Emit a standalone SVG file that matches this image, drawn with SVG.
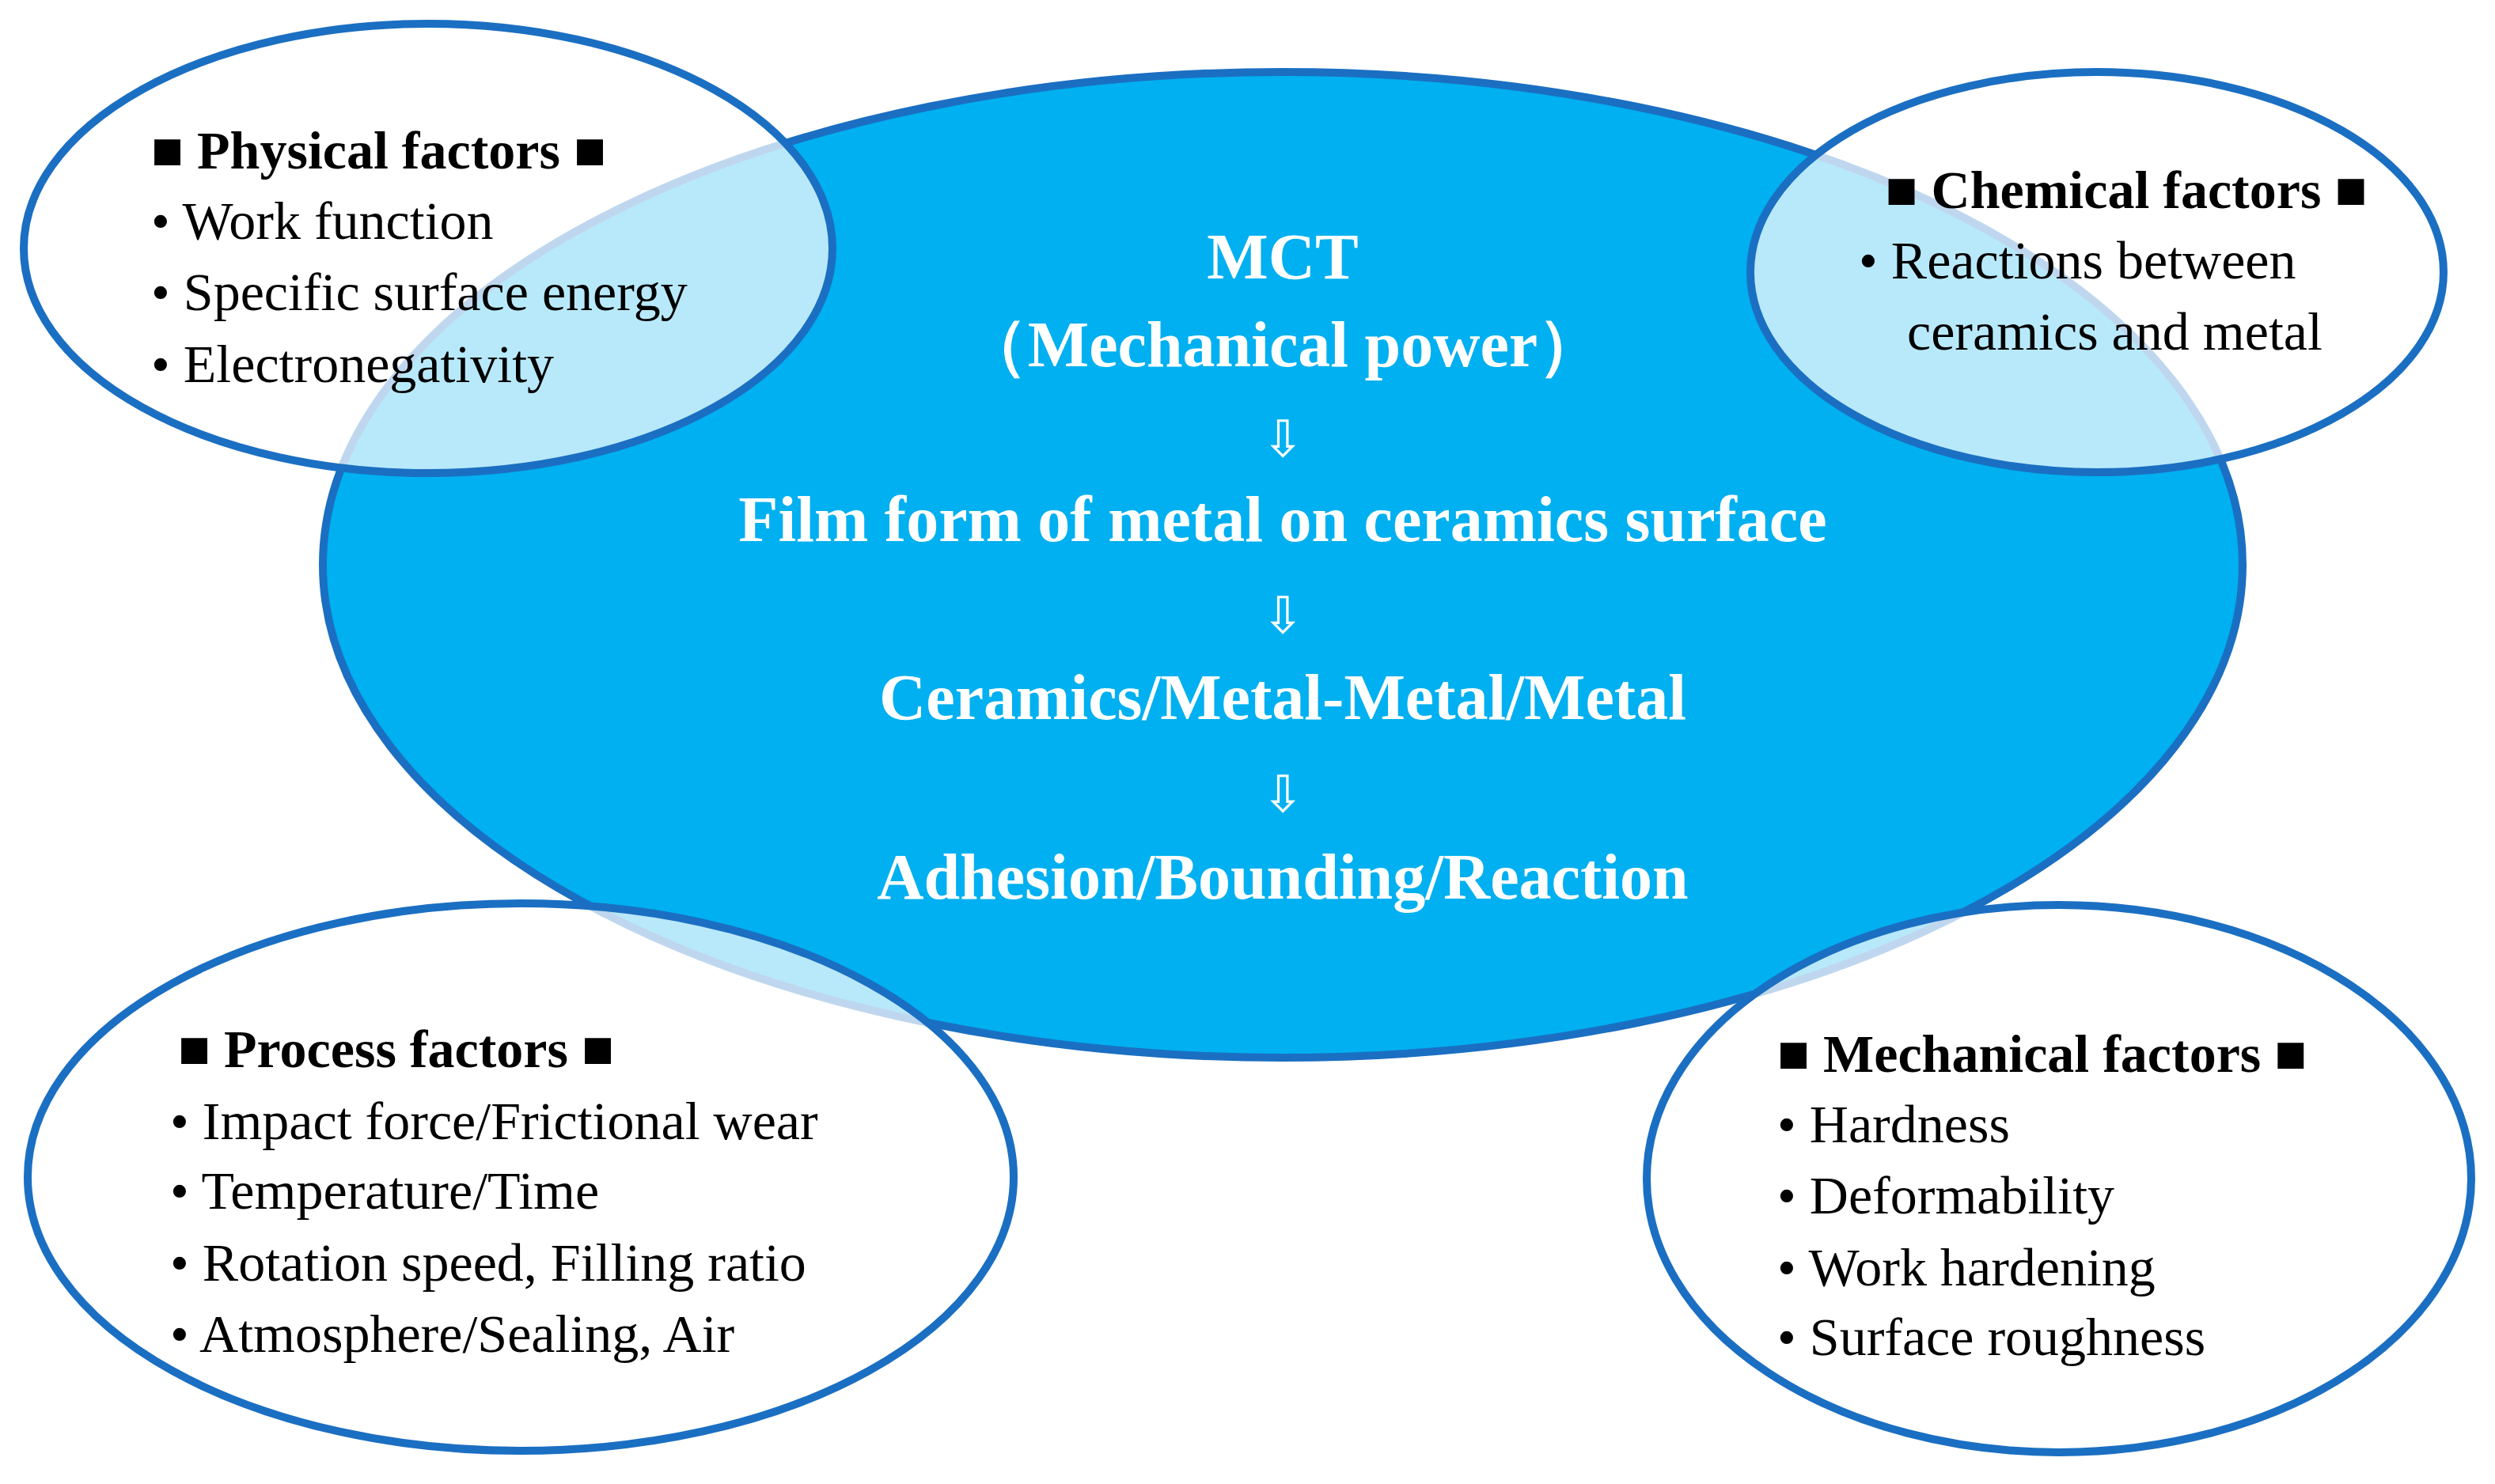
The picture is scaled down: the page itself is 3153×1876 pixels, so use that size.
<svg xmlns="http://www.w3.org/2000/svg" width="3153" height="1876" viewBox="0 0 3153 1876">
<style>
.e{stroke:#1b6fc2;stroke-width:10}
.s{fill:#fff;fill-opacity:0.72}
text{font-family:"Liberation Serif","DejaVu Serif",serif;fill:#000;font-size:68px}
.b{font-weight:bold}
.c{font-family:"Liberation Serif","DejaVu Serif",serif;font-weight:bold;fill:#fff;font-size:82px;text-anchor:middle}
.a{font-family:"DejaVu Sans",sans-serif;fill:#fff;font-size:64px;text-anchor:middle}
</style>
<rect width="3153" height="1876" fill="#fff"/>
<g id="core">
<ellipse class="e" cx="1621" cy="714" rx="1213" ry="623" fill="#00b0f0"/>
<text class="c" x="1621" y="352">MCT</text>
<text class="c" x="1621" y="463">（Mechanical power）</text>
<text class="a" x="1621" y="577">⇩</text>
<text class="c" x="1621" y="684">Film form of metal on ceramics surface</text>
<text class="a" x="1621" y="800">⇩</text>
<text class="c" x="1621" y="909">Ceramics/Metal-Metal/Metal</text>
<text class="a" x="1621" y="1026">⇩</text>
<text class="c" x="1621" y="1136">Adhesion/Bounding/Reaction</text>
</g>
<g id="physical">
<ellipse class="e s" cx="541" cy="314" rx="511" ry="284"/>
<text class="b" x="191" y="213">■ Physical factors ■</text>
<text x="191" y="302">• Work function</text>
<text x="191" y="392">• Specific surface energy</text>
<text x="191" y="483">• Electronegativity</text>
</g>
<g id="chemical">
<ellipse class="e s" cx="2650" cy="344" rx="438" ry="253"/>
<text class="b" x="2687" y="263" text-anchor="middle">■ Chemical factors ■</text>
<text x="2349" y="352">• Reactions between</text>
<text x="2410" y="442">ceramics and metal</text>
</g>
<g id="process">
<ellipse class="e s" cx="658" cy="1488" rx="623" ry="346"/>
<text class="b" x="225" y="1349">■ Process factors ■</text>
<text x="215" y="1440">• Impact force/Frictional wear</text>
<text x="215" y="1528">• Temperature/Time</text>
<text x="215" y="1619">• Rotation speed, Filling ratio</text>
<text x="215" y="1709">• Atmosphere/Sealing, Air</text>
</g>
<g id="mechanical">
<ellipse class="e s" cx="2602" cy="1490" rx="521" ry="346"/>
<text class="b" x="2246" y="1355">■ Mechanical factors ■</text>
<text x="2246" y="1444">• Hardness</text>
<text x="2246" y="1534">• Deformability</text>
<text x="2246" y="1625">• Work hardening</text>
<text x="2246" y="1713">• Surface roughness</text>
</g>
<g id="connectors"/>
</svg>
